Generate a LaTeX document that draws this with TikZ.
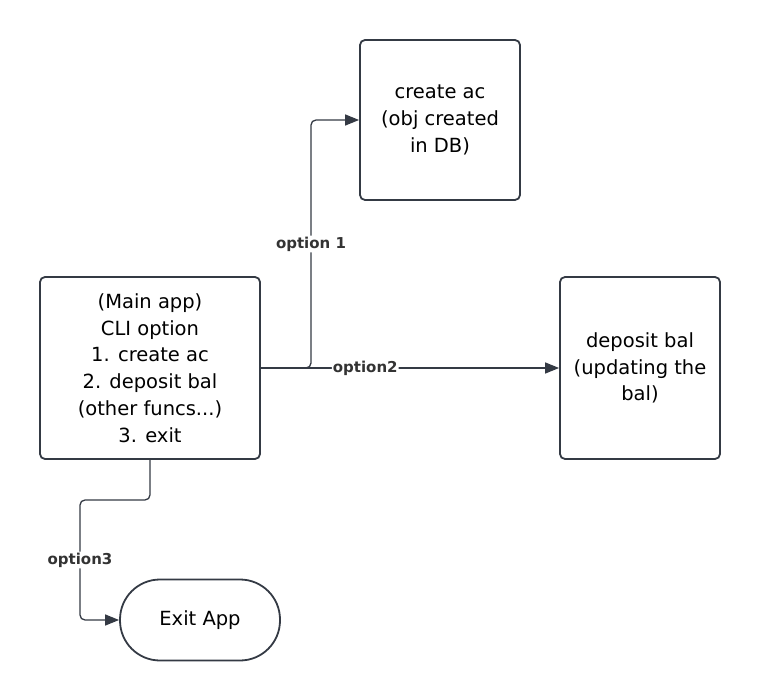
\documentclass[tikz,border=0pt]{standalone}
\usepackage{fontspec}
\setmainfont{DejaVu Sans}
\usetikzlibrary{arrows.meta,positioning}

\definecolor{edgegray}{RGB}{52,58,68}
\definecolor{labelgray}{RGB}{51,51,51}

\begin{document}
\begin{tikzpicture}[x=1pt,y=-1pt,on grid,
                    line width=1.8pt,draw=edgegray,
                    >={Triangle[length=14pt,width=11pt]},
                    box/.style={draw=edgegray,rounded corners=5pt,align=center,
                                font=\fontsize{19.5}{26.7}\selectfont},
                    link/.style={->,edgegray,line width=1.3pt,rounded corners=5pt},
                    optlabel/.style={fill=white,inner sep=1pt,text=labelgray,
                                     font=\fontsize{15}{17}\selectfont\bfseries}]
    \useasboundingbox (0,0) rectangle (760,700);

    \node[box,minimum width=220pt,minimum height=182pt] (main) at (150,368)
        {(Main app)\\CLI option\\1. create ac\\2. deposit bal\\(other funcs...)\\3. exit};
    \node[box,minimum width=160pt,minimum height=160pt]
        (create)  [above right=248pt and 290pt of main] {create ac\\(obj created\\in DB)};
    \node[box,minimum width=160pt,minimum height=182pt]
        (deposit) [right=490pt of main] {deposit bal\\(updating the\\bal)};
    \node[box,rounded corners=40pt,minimum width=160pt,minimum height=81pt]
        (exit)    [below right=252pt and 50pt of main] {Exit App};

    \coordinate[right=161pt of main] (split);
    \coordinate[below left=132pt and 70pt of main] (turn);

    \draw[link] (main.east) -- (split) |- node[optlabel,pos=0.25] {option 1} (create.west);
    \draw[link] (main.east) -- node[optlabel,pos=0.35] {option2} (deposit.west);
    \draw[link] (main.south) |- (turn) |- node[optlabel,pos=0.25] {option3} (exit.west);
\end{tikzpicture}
\end{document}
